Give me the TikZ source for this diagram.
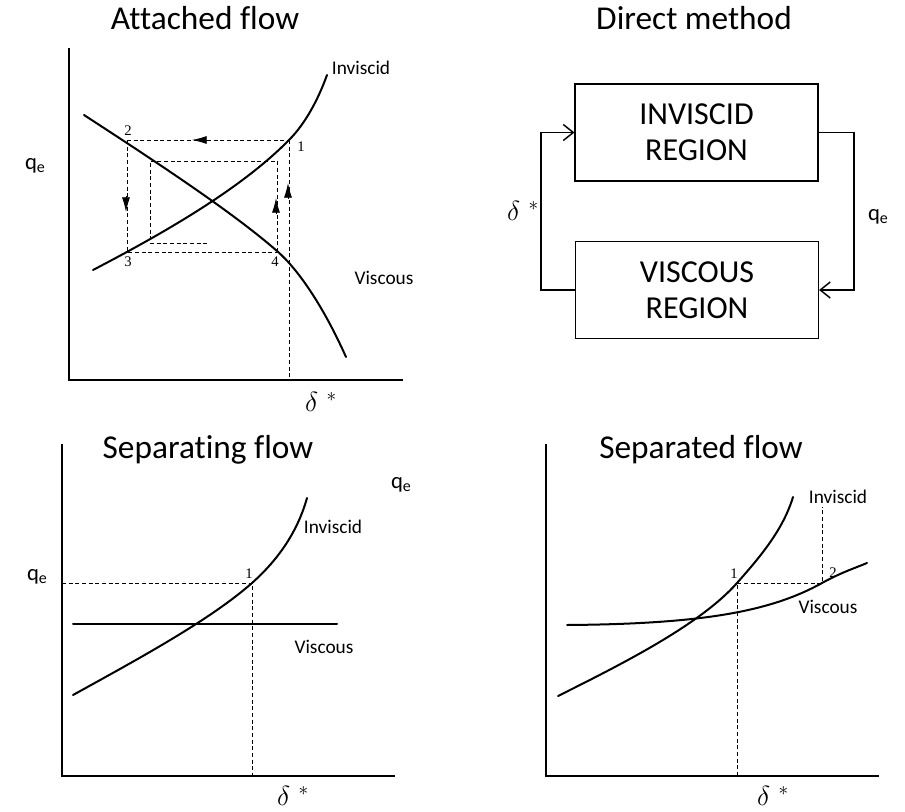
\documentclass[tikz,border=0pt]{standalone}
\usepackage{fontspec}
\setmainfont{Carlito}[Ligatures=NoCommon]
\newfontfamily\numfont{Liberation Serif}
\usetikzlibrary{arrows.meta}
\newcommand{\qlab}{q\raisebox{-0.3ex}{\fontsize{12}{14}\selectfont e}}
\newcommand{\dstar}{$\delta^{\;\,*}$}
\tikzset{
  curve/.style={line width=1.5pt, line cap=round},
  axis/.style={line width=1pt},
  guide/.style={line width=0.7pt, dash pattern=on 3pt off 2pt},
  blob/.style={line width=0.6pt, -{Latex[length=11pt,width=6pt]}},
  title/.style={font=\fontsize{25}{30}\selectfont, anchor=base},
  lbl/.style={font=\fontsize{14.5}{17}\selectfont},
  qlbl/.style={font=\fontsize{17}{20}\selectfont},
  dlbl/.style={font=\fontsize{21}{24}\selectfont, inner sep=1pt},
  num/.style={font=\numfont\fontsize{11}{13}\selectfont},
  region/.style={draw, line width=1.1pt, minimum width=182pt, minimum height=73pt,
    align=center, font=\fontsize{24}{27}\selectfont, inner sep=0pt},
  feed/.style={line width=1.1pt, -{Straight Barb[length=7.5pt,width=12pt,line width=1.1pt]}},
}
\begin{document}
\begin{tikzpicture}[x=0.75pt,y=-0.75pt]
\useasboundingbox (0,0) rectangle (905,812);

% ================= Attached flow =================
\node[title] (t1) at (205,30) {Attached flow};
\draw[axis] (69,48) -- (69,380) -- (403,380);
% dashed guides
\draw[guide] (127,140) -- (289,140);
\draw[guide] (127,140) -- (127,252) -- (277,252);
\draw[guide] (277,252) -- (277,161) -- (150,161) -- (150,243) -- (209,243);
\draw[guide] (289,140) -- (289,380);
% curves
\draw[curve] (93,270) .. controls (160,235) and (240,190) .. (289,140)
                      .. controls (305,124) and (318,100) .. (327,75);
\draw[curve] (84,115) .. controls (150,158) and (230,210) .. (277,251)
                      .. controls (300,271) and (325,310) .. (346,357);
% iteration arrows
\draw[blob] (208,140) -- (192,140);
\draw[blob] (126,196) -- (126,212);
\draw[blob] (276,214) -- (276,198);
\draw[blob] (288,199) -- (288,183);
% labels
\node[num] (n2) at (128,131) {2};
\node[num] (n1) at (301,147) {1};
\node[num] (n3) at (128,262) {3};
\node[num] (n4) at (275,262) {4};
\node[lbl] (inv1) at (361,68) {Inviscid};
\node[lbl] (vis1) at (384,278) {Viscous};
\node[qlbl] (q1) at (35,166) {\qlab};
\node[dlbl] (d1) at (321,402) {\dstar};

% ================= Direct method =================
\node[title] (t2) at (694,30) {Direct method};
\node[region] (inv) at (696.5,132.5) {INVISCID\\REGION};
\node[region] (vis) at (697,290) {VISCOUS\\REGION};
\coordinate (lc) at (541,0);
\coordinate (rc) at (854,0);
\draw[feed] (vis.west) -- (vis.west -| lc) |- (inv.west);
\draw[feed] (inv.east) -- (inv.east -| rc) |- (vis.east);
\node[dlbl] (d2) at (523,211) {\dstar};
\node[qlbl] (q2) at (878,217) {\qlab};

% ================= Separating flow =================
\node[title] (t3) at (208,458) {Separating flow};
\draw[axis] (62,444) -- (62,776) -- (395,776);
\draw[guide] (62,583) -- (252,583) -- (252,776);
\draw[curve] (73,624) -- (337,624);
\draw[curve] (73,695) .. controls (140,658) and (210,620) .. (252,583)
                      .. controls (280,558) and (298,530) .. (307,498);
\node[num] (s1) at (249,574) {1};
\node[lbl] (inv3) at (333,527) {Inviscid};
\node[lbl] (vis3) at (324,647) {Viscous};
\node[qlbl] (q3) at (37,577) {\qlab};
\node[qlbl] (q4) at (401,485) {\qlab};
\node[dlbl] (d3) at (293,796) {\dstar};

% ================= Separated flow =================
\node[title] (t4) at (701,458) {Separated flow};
\draw[axis] (546,444) -- (546,776) -- (879,776);
\draw[guide] (737,776) -- (737,583) -- (822,583) -- (822,507);
\draw[curve] (558,696) .. controls (620,665) and (700,625) .. (737,583)
                       .. controls (760,557) and (783,530) .. (793,497);
\draw[curve] (567,625) .. controls (700,624) and (770,612) .. (822,583)
                       .. controls (840,573) and (855,568) .. (867,563);
\node[num] (p1) at (734,574) {1};
\node[num] (p2) at (833,573) {2};
\node[lbl] (inv4) at (838,497) {Inviscid};
\node[lbl] (vis4) at (828,607) {Viscous};
\node[dlbl] (d4) at (773,796) {\dstar};
\end{tikzpicture}
\end{document}
